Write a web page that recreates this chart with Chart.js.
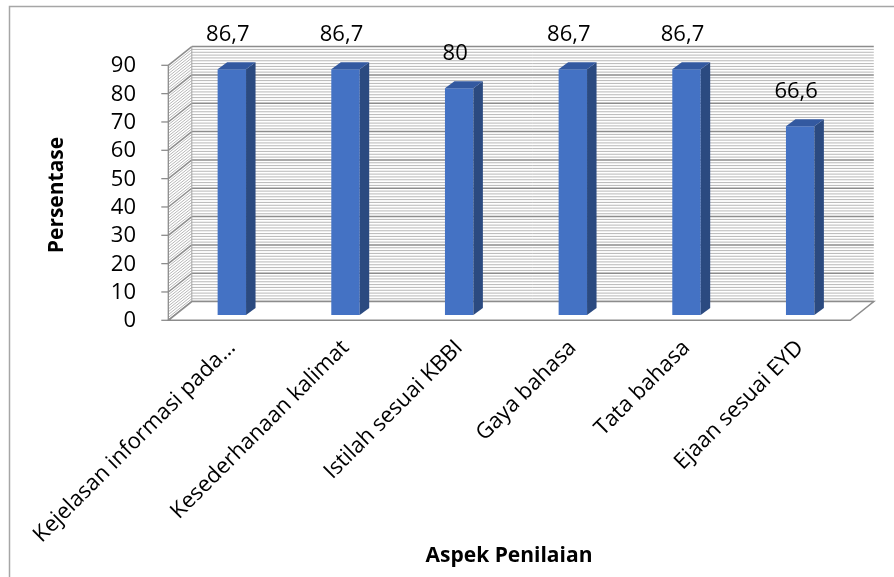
<!DOCTYPE html>
<html>
<head>
<meta charset="utf-8">
<script src="https://cdn.jsdelivr.net/npm/chart.js@4/dist/chart.umd.min.js"></script>
<style>
  html, body { margin: 0; padding: 0; background: #ffffff; }
  #wrap { width: 894px; height: 577px; position: relative; }
</style>
</head>
<body>
<div id="wrap"><canvas id="c" width="894" height="577"></canvas></div>
<script>
// ---- data ----
const categories = [
  "Kejelasan informasi pada\u2026",
  "Kesederhanaan kalimat",
  "Istilah sesuai KBBI",
  "Gaya bahasa",
  "Tata bahasa",
  "Ejaan sesuai EYD"
];
const values = [86.7, 86.7, 80, 86.7, 86.7, 66.6];
const yTicks = [0, 10, 20, 30, 40, 50, 60, 70, 80, 90];
const yTitle = "Persentase";
const xTitle = "Aspek Penilaian";

// ---- style ----
const FONT = "'Open Sans', 'Noto Sans', sans-serif";
const FRONT = { dx: -6.7, dy: 5.3 };   // front plane relative to bar plane
const BACK = { dx: 16.8, dy: -13.4 };  // back wall relative to bar plane
const BAR_DEPTH = { dx: 9.5, dy: -7 };
const MINOR_STEP = 1;
const MAJOR_STEP = 10;

function fmt(v) { return String(v).replace('.', ','); }

const frame = {
  id: 'frame',
  beforeDraw(chart) {
    const ctx = chart.ctx;
    ctx.save();
    ctx.fillStyle = '#ffffff';
    ctx.fillRect(0, 0, chart.width, chart.height);
    ctx.strokeStyle = '#a6a6a6';
    ctx.lineWidth = 1.5;
    ctx.beginPath();
    ctx.moveTo(9.5, chart.height + 5);
    ctx.lineTo(9.5, 6.5);
    ctx.lineTo(chart.width + 5, 6.5);
    ctx.stroke();
    ctx.restore();
  }
};

const walls = {
  id: 'walls',
  beforeDatasetsDraw(chart) {
    const ctx = chart.ctx;
    const ys = chart.scales.y;
    const L = chart.chartArea.left, R = chart.chartArea.right;
    const vMin = yTicks[0], vMax = yTicks[yTicks.length - 1];
    const y0 = ys.getPixelForValue(vMin), y1 = ys.getPixelForValue(vMax);
    ctx.save();
    // back wall
    ctx.fillStyle = '#ffffff';
    ctx.fillRect(L + BACK.dx, y1 + BACK.dy, R - L, y0 - y1);
    // left wall fill
    ctx.beginPath();
    ctx.moveTo(L + FRONT.dx, y0 + FRONT.dy);
    ctx.lineTo(L + FRONT.dx, y1 + FRONT.dy);
    ctx.lineTo(L + BACK.dx, y1 + BACK.dy);
    ctx.lineTo(L + BACK.dx, y0 + BACK.dy);
    ctx.closePath();
    ctx.fill();
    // grid lines (minor + major)
    for (let v = vMin; v <= vMax + 1e-9; v += MINOR_STEP) {
      const major = Math.abs(v / MAJOR_STEP - Math.round(v / MAJOR_STEP)) < 1e-9;
      const yy = ys.getPixelForValue(v);
      ctx.strokeStyle = major ? '#8c8c8c' : '#b8b8b8';
      ctx.lineWidth = major ? 1.5 : 1;
      ctx.beginPath();
      ctx.moveTo(L + BACK.dx, yy + BACK.dy);
      ctx.lineTo(R + BACK.dx, yy + BACK.dy);
      ctx.stroke();
      ctx.beginPath();
      ctx.moveTo(L + FRONT.dx, yy + FRONT.dy);
      ctx.lineTo(L + BACK.dx, yy + BACK.dy);
      ctx.stroke();
    }
    // wall corner
    ctx.strokeStyle = '#a6a6a6';
    ctx.lineWidth = 1;
    ctx.beginPath();
    ctx.moveTo(L + BACK.dx, y1 + BACK.dy);
    ctx.lineTo(L + BACK.dx, y0 + BACK.dy);
    ctx.stroke();
    // floor
    ctx.fillStyle = '#ffffff';
    ctx.beginPath();
    ctx.moveTo(L + FRONT.dx, y0 + FRONT.dy);
    ctx.lineTo(R + FRONT.dx, y0 + FRONT.dy);
    ctx.lineTo(R + BACK.dx, y0 + BACK.dy);
    ctx.lineTo(L + BACK.dx, y0 + BACK.dy);
    ctx.closePath();
    ctx.fill();
    ctx.strokeStyle = '#8c8c8c';
    ctx.lineWidth = 1.5;
    ctx.stroke();
    // front axis line + ticks
    ctx.strokeStyle = '#8c8c8c';
    ctx.lineWidth = 1.3;
    ctx.beginPath();
    ctx.moveTo(L + FRONT.dx, y1 + FRONT.dy);
    ctx.lineTo(L + FRONT.dx, y0 + FRONT.dy);
    ctx.stroke();
    yTicks.forEach(v => {
      const yy = ys.getPixelForValue(v) + FRONT.dy;
      ctx.beginPath();
      ctx.moveTo(L + FRONT.dx - 7, yy);
      ctx.lineTo(L + FRONT.dx, yy);
      ctx.stroke();
    });
    ctx.restore();
  }
};

const bars3d = {
  id: 'bars3d',
  afterDatasetsDraw(chart) {
    const ctx = chart.ctx;
    const meta = chart.getDatasetMeta(0);
    ctx.save();
    meta.data.forEach((el, i) => {
      const { x, y, base, width } = el.getProps(['x', 'y', 'base', 'width'], true);
      const l = x - width / 2, r = x + width / 2;
      // side face
      ctx.fillStyle = '#2B4A80';
      ctx.beginPath();
      ctx.moveTo(r, y);
      ctx.lineTo(r + BAR_DEPTH.dx, y + BAR_DEPTH.dy);
      ctx.lineTo(r + BAR_DEPTH.dx, base + BAR_DEPTH.dy);
      ctx.lineTo(r, base);
      ctx.closePath();
      ctx.fill();
      // top face
      ctx.fillStyle = '#3359A0';
      ctx.beginPath();
      ctx.moveTo(l, y);
      ctx.lineTo(l + BAR_DEPTH.dx, y + BAR_DEPTH.dy);
      ctx.lineTo(r + BAR_DEPTH.dx, y + BAR_DEPTH.dy);
      ctx.lineTo(r, y);
      ctx.closePath();
      ctx.fill();
      // value label
      ctx.fillStyle = '#000000';
      ctx.font = '22px ' + FONT;
      ctx.textAlign = 'center';
      ctx.textBaseline = 'middle';
      ctx.fillText(fmt(values[i]), x - 4, y - 35);
    });
    // axis titles
    ctx.font = 'bold 21px ' + FONT;
    ctx.textAlign = 'center';
    ctx.textBaseline = 'middle';
    ctx.fillText(xTitle, 509, 556);
    ctx.save();
    ctx.translate(57, 195);
    ctx.rotate(-Math.PI / 2);
    ctx.fillText(yTitle, 0, 0);
    ctx.restore();
    ctx.restore();
  }
};

new Chart(document.getElementById('c'), {
  type: 'bar',
  data: {
    labels: categories,
    datasets: [{
      data: values,
      backgroundColor: '#4472C4',
      borderWidth: 0,
      barPercentage: 1,
      categoryPercentage: 0.25
    }]
  },
  options: {
    responsive: false,
    devicePixelRatio: 1,
    animation: false,
    layout: { padding: { left: 0, top: 60, right: 37, bottom: 0 } },
    plugins: { legend: { display: false }, tooltip: { enabled: false } },
    scales: {
      x: {
        grid: { display: false },
        border: { display: false },
        ticks: {
          autoSkip: false,
          maxRotation: 45,
          minRotation: 45,
          padding: 12,
          color: '#000000',
          font: { family: FONT, size: 22 }
        },
        afterFit(scale) { scale.height = 262; }
      },
      y: {
        min: yTicks[0],
        max: yTicks[yTicks.length - 1],
        grid: { display: false },
        border: { display: false },
        afterBuildTicks(scale) { scale.ticks = yTicks.map(v => ({ value: v })); },
        ticks: {
          autoSkip: false,
          padding: 31,
          labelOffset: 6,
          color: '#000000',
          font: { family: FONT, size: 22 }
        },
        afterFit(scale) { scale.width = 175; }
      }
    }
  },
  plugins: [frame, walls, bars3d]
});
</script>
</body>
</html>
